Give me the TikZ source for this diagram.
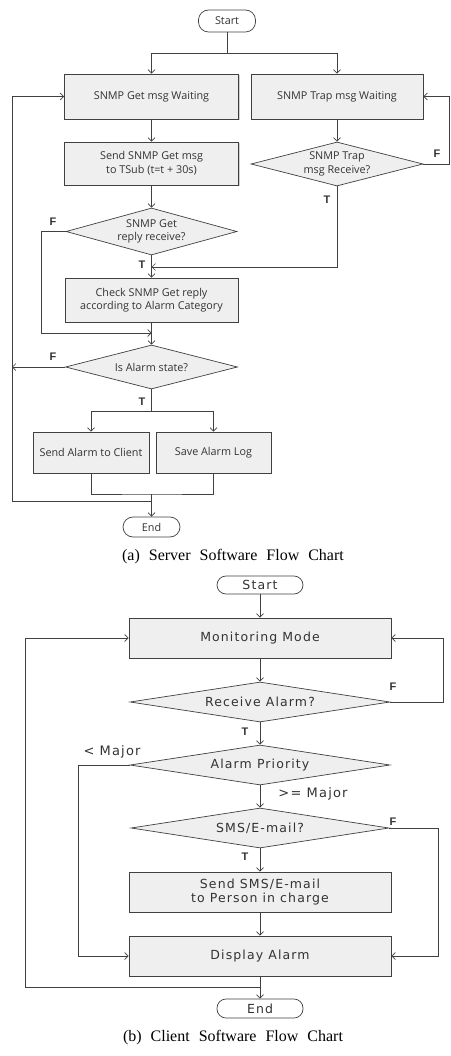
\documentclass[tikz,border=0pt]{standalone}
\usepackage{fontspec}
\setmainfont{Liberation Serif}
\newfontfamily\fa{Open Sans}
\newfontfamily\fb[LetterSpace=9]{DejaVu Sans}
\newfontfamily\fl{Liberation Sans}
\usetikzlibrary{shapes.geometric,arrows.meta,shadows}
\definecolor{lc}{HTML}{404040}
\definecolor{bf}{HTML}{EFEFEF}
\definecolor{tc}{HTML}{333333}
\begin{document}
\begin{tikzpicture}[x=1pt,y=-1pt,
  ln/.style={draw=lc, line width=0.7pt},
  arr/.style={ln, -{Straight Barb[length=3.5pt,width=7pt]}},
  shad/.style={drop shadow={shadow xshift=1.2pt,shadow yshift=-1.2pt,fill=black!35}},
  boxa/.style={rectangle, draw=lc, fill=bf, line width=0.7pt, shad, text=tc, align=center, inner sep=0pt,
    font=\fa\fontsize{10.8}{13.5}\selectfont},
  diaa/.style={diamond, draw=lc, fill=bf, line width=0.7pt, text=tc, align=center, inner xsep=-15pt, inner ysep=-6pt, aspect=3.9,
    font=\fa\fontsize{10.8}{13.5}\selectfont},
  terma/.style={rectangle, rounded corners=10pt, draw=lc, fill=white, line width=0.7pt, text=tc, inner sep=0pt,
    font=\fa\fontsize{10.8}{13}\selectfont},
  boxb/.style={rectangle, draw=lc, fill=bf, line width=0.7pt, shad, text=tc, align=center, inner sep=0pt,
    minimum width=262pt, minimum height=40pt, font=\fb\fontsize{12.5}{14}\selectfont},
  diab/.style={diamond, draw=lc, fill=bf, line width=0.7pt, text=tc, align=center, inner xsep=-20pt, inner ysep=-4pt, aspect=6.5,
    minimum width=260pt, minimum height=40pt, font=\fb\fontsize{12.5}{14}\selectfont},
  termb/.style={rectangle, rounded corners=9pt, draw=lc, fill=white, line width=0.7pt, text=tc, inner sep=0pt,
    minimum width=86pt, minimum height=18pt, font=\fb\fontsize{12.5}{14}\selectfont},
  laba/.style={font=\fl\bfseries\fontsize{11}{11}\selectfont, text=tc, inner sep=0pt},
  labb/.style={font=\fb\fontsize{13}{13}\selectfont, text=tc, inner sep=0pt},
  capt/.style={font={\fontsize{16}{16}\selectfont\spaceskip=9pt\relax}, text=black, inner sep=0pt}
]
\useasboundingbox (0,0) rectangle (450,1056);
% ---------- (a) ----------
\node[terma, minimum width=57pt, minimum height=22pt] (s) at (227,21) {Start};
\node[boxa, minimum width=174pt, minimum height=45pt] (gw) at (151.5,96.5) {SNMP Get msg Waiting};
\node[boxa, minimum width=172pt, minimum height=45pt] (tw) at (337,96.5) {SNMP Trap msg Waiting};
\node[boxa, minimum width=174pt, minimum height=43pt] (sg) at (151.5,163.5) {Send SNMP Get msg\\to TSub (t=t + 30s)};
\node[diaa, minimum width=172pt, minimum height=44pt] (td) at (337,164) {SNMP Trap\\msg Receive?};
\node[diaa, minimum width=171pt, minimum height=47pt] (gd) at (151.5,231.5) {SNMP Get\\reply receive?};
\node[boxa, minimum width=173pt, minimum height=44pt] (ck) at (151.5,300) {Check SNMP Get reply\\according to Alarm Category};
\node[diaa, minimum width=172pt, minimum height=44pt] (ad) at (151.5,367) {Is Alarm state?};
\node[boxa, minimum width=116pt, minimum height=41pt] (sc) at (91,452.5) {Send Alarm to Client};
\node[boxa, minimum width=115pt, minimum height=41pt] (sl) at (213.5,452.5) {Save Alarm Log};
\node[terma, minimum width=57pt, minimum height=20pt] (e) at (151.5,527) {End};
\node[capt] (ca) at (233,557) {(a) Server Software Flow Chart};

\coordinate (j1) at (227,53);
\draw[ln] (s) -- (j1);
\draw[arr] (j1) -| (gw.north);
\draw[arr] (j1) -| (tw.north);
\draw[arr] (gw) -- (sg);
\draw[arr] (sg) -- (gd);
\draw[arr] (gd) -- (ck);
\draw[arr] (tw) -- (td);
\coordinate (tj) at (151.5,267);
\draw[arr] (td.south) |- (tj);
\coordinate (tr) at (449,164);
\draw[arr] (td.east) -- (tr) |- (tw.east);
\coordinate (gfl) at (41,231.5);
\coordinate (cj) at (151.5,333);
\draw[arr] (gd.west) -- (gfl) |- (cj);
\draw[arr] (ck) -- (ad);
\coordinate (afl) at (12,367);
\draw[arr] (ad.west) -- (afl);
\coordinate (lb) at (12,501);
\coordinate (eb) at (151.5,501);
\draw[arr] (eb) -- (lb) |- (gw.west);
\coordinate (aj) at (151.5,411);
\draw[ln] (ad.south) -- (aj);
\draw[arr] (aj) -| (sc.north);
\draw[arr] (aj) -| (sl.north);
\coordinate (bj) at (151.5,494);
\draw[ln] (sc.south) |- (bj) -| (sl.south);
\draw[arr] (bj) -- (e.north);

\node[laba] (f1) at (437,154) {F};
\node[laba] (t1) at (327,200) {T};
\node[laba] (f2) at (53,222) {F};
\node[laba] (t2) at (142,265) {T};
\node[laba] (f3) at (53,357) {F};
\node[laba] (t3) at (142,402) {T};

% ---------- (b) ----------
\node[termb] (sb) at (260,585) {Start};
\node[boxb] (mm) at (260,638) {Monitoring Mode};
\node[diab] (ra) at (260,702) {Receive Alarm?};
\node[diab] (ap) at (260,765) {Alarm Priority};
\node[diab, minimum width=258pt] (se) at (260,828) {SMS/E-mail?};
\node[boxb] (ss) at (260,892) {Send SMS/E-mail\\to Person in charge};
\node[boxb] (da) at (260,956) {Display Alarm};
\node[termb, minimum height=19pt] (en) at (260,1008.5) {End};
\node[capt] (cb) at (233,1038) {(b) Client Software Flow Chart};

\draw[arr] (sb) -- (mm);
\draw[arr] (mm) -- (ra);
\draw[arr] (ra) -- (ap);
\draw[arr] (ap) -- (se);
\draw[arr] (se) -- (ss);
\draw[arr] (ss) -- (da);
\draw[arr] (da) -- (en);
\coordinate (rf) at (443,702);
\draw[arr] (ra.east) -- (rf) |- (mm.east);
\coordinate (pl) at (78,765);
\draw[arr] (ap.west) -- (pl) |- (da.west);
\coordinate (sf) at (438,828);
\draw[arr] (se.east) -- (sf) |- (da.east);
\coordinate (dj) at (260,987);
\coordinate (dl) at (25,987);
\draw[arr] (dj) -- (dl) |- (mm.west);

\node[laba] (f4) at (393,687) {F};
\node[laba] (t4) at (245,732) {T};
\node[labb] (lm) at (112,752) {< Major};
\node[labb] (gm) at (313,794) {>= Major};
\node[laba] (f5) at (393,822) {F};
\node[laba] (t5) at (245,857) {T};
\end{tikzpicture}
\end{document}
